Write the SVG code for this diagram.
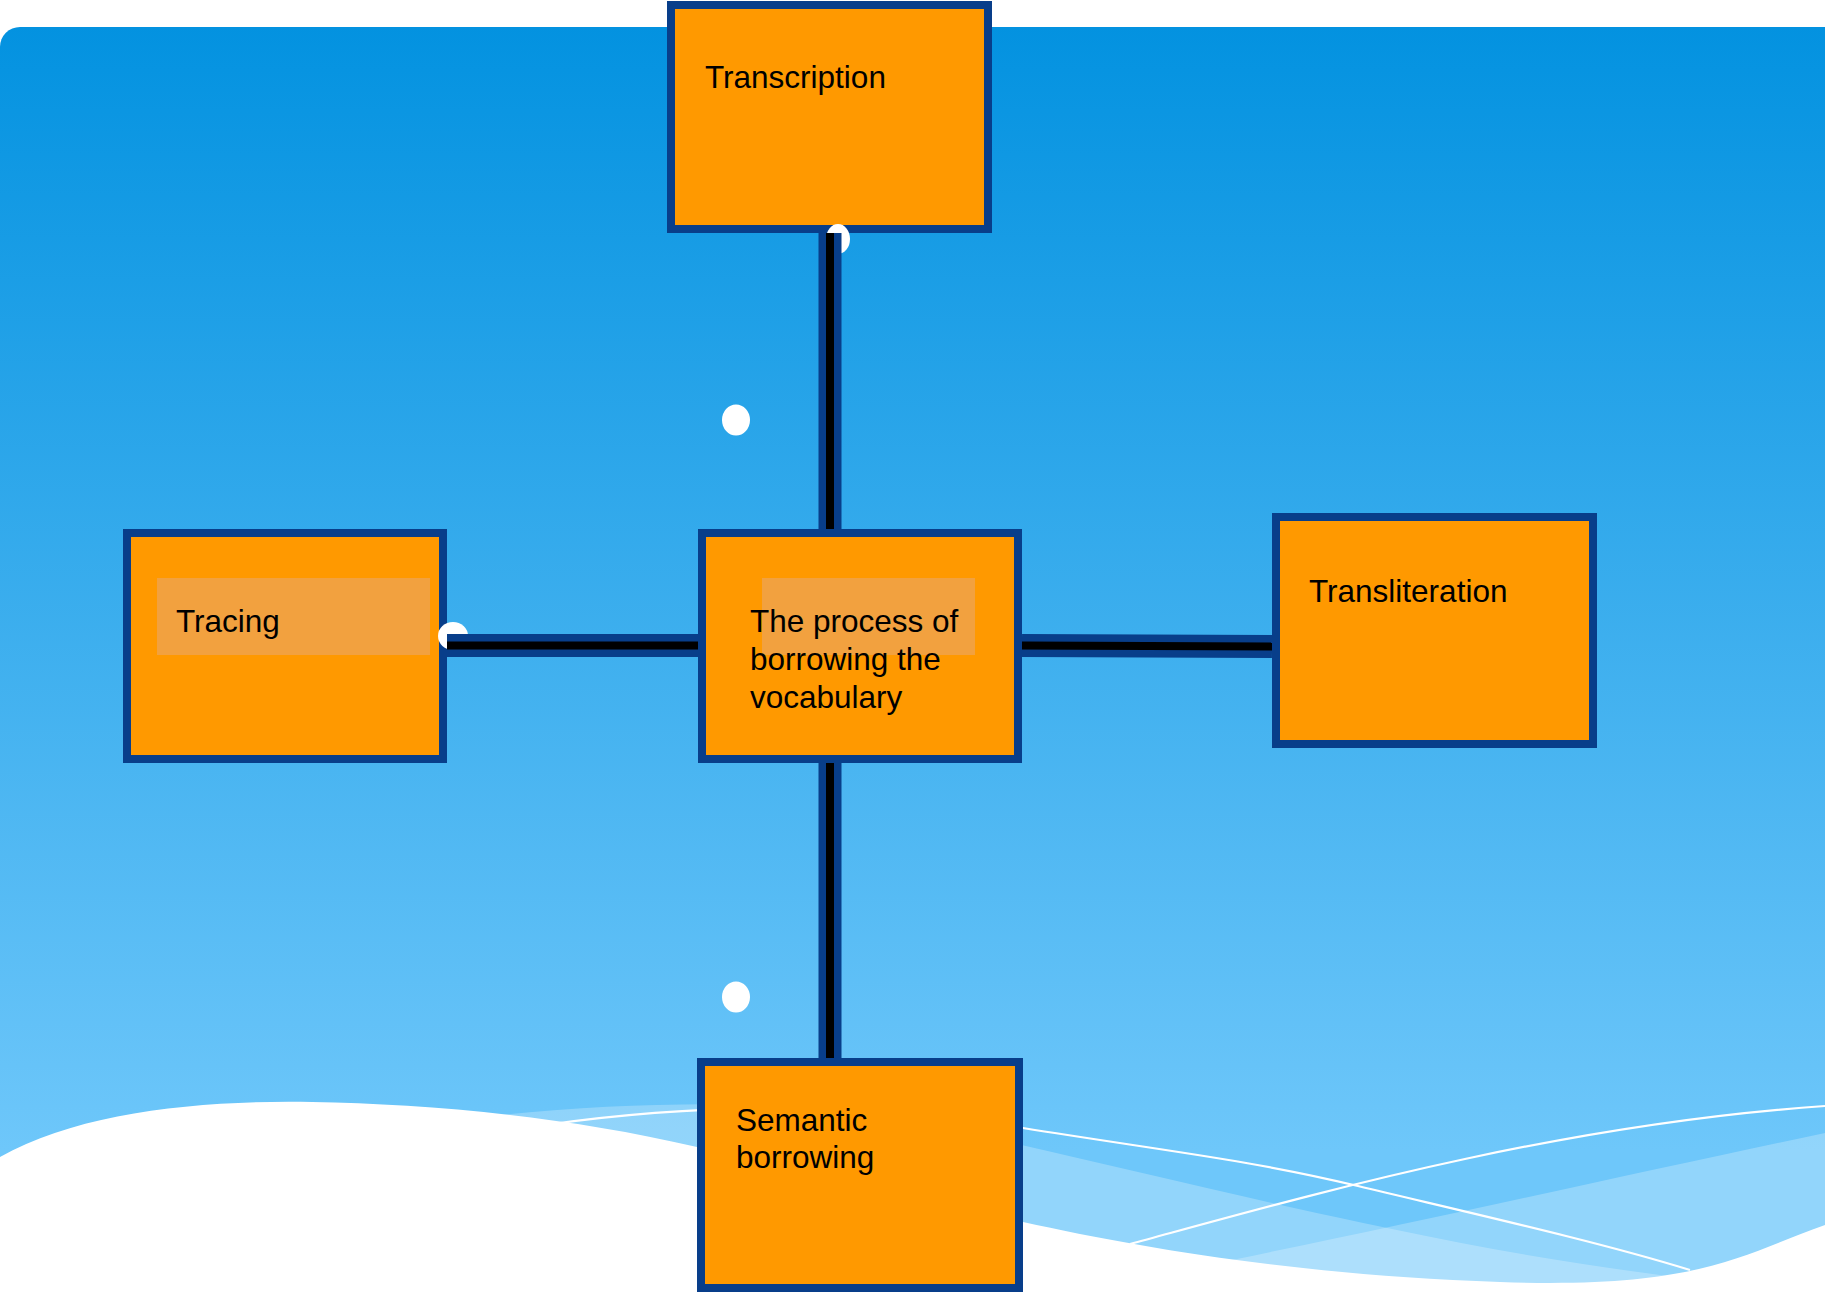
<svg xmlns="http://www.w3.org/2000/svg" width="1825" height="1296" viewBox="0 0 1825 1296">
  <defs>
    <linearGradient id="bg" gradientUnits="userSpaceOnUse" x1="0" y1="27" x2="0" y2="1150">
      <stop offset="0" stop-color="#0392e0"/>
      <stop offset="1" stop-color="#6ec7fa"/>
    </linearGradient>
    <style>
      .box { fill: #ff9900; stroke: #083e8a; stroke-width: 8; }
      .hl { fill: #f2a13f; }
      .lbl { font-family: "Liberation Sans", Arial, sans-serif; font-size: 31.5px; fill: #000; }
      .band { fill: #ffffff; fill-opacity: 0.25; }
      .wline { fill: none; stroke: #ffffff; stroke-width: 2.2; }
      .cnav { stroke: #083e8a; stroke-width: 23; }
      .cblk { stroke: #000000; stroke-width: 8; }
      .blob { fill: #ffffff; }
    </style>
  </defs>

  <rect x="0" y="0" width="1825" height="1296" fill="#ffffff"/>
  <rect x="0" y="27" width="1845" height="1300" rx="20" ry="20" fill="url(#bg)"/>

  <g id="waves">
    <path class="band" d="M480,1117 C620,1102 780,1098 900,1118 C1050,1150 1250,1200 1392,1229 C1500,1252 1600,1268 1700,1280 L1700,1296 L480,1296 Z"/>
    <path class="band" d="M1825,1133 C1650,1170 1450,1215 1232,1260 L1232,1296 L1825,1296 Z"/>
    <path class="wline" d="M545,1125 C720,1100 880,1105 1023,1128 S1250,1160 1358,1186 S1600,1242 1690,1270"/>
    <path class="wline" d="M1130,1244 C1300,1198 1550,1125 1825,1106"/>
    <path fill="#ffffff" d="M0,1157 C80,1112 200,1100 312,1102 S560,1115 697,1147 S900,1195 1023,1222 S1300,1275 1500,1282 S1740,1255 1825,1225 L1825,1296 L0,1296 Z"/>
  </g>

  <g id="node-transcription">
    <rect class="box" x="671" y="5" width="317" height="224"/>
    <text class="lbl" x="705" y="88">Transcription</text>
  </g>

  <g id="node-tracing">
    <rect class="box" x="127" y="533" width="316" height="226"/>
    <rect class="hl" x="157" y="578" width="273" height="77"/>
    <text class="lbl" x="176" y="632">Tracing</text>
  </g>

  <g id="node-center">
    <rect class="box" x="702" y="533" width="316" height="226"/>
    <rect class="hl" x="762" y="578" width="213" height="77"/>
    <text class="lbl" x="750" y="632">The process of</text>
    <text class="lbl" x="750" y="670">borrowing the</text>
    <text class="lbl" x="750" y="708">vocabulary</text>
  </g>

  <g id="node-transliteration">
    <rect class="box" x="1276" y="517" width="317" height="227"/>
    <text class="lbl" x="1309" y="602">Transliteration</text>
  </g>

  <g id="node-semantic">
    <rect class="box" x="701" y="1062" width="318" height="226"/>
    <text class="lbl" x="736" y="1131">Semantic</text>
    <text class="lbl" x="736" y="1168">borrowing</text>
  </g>

  <g id="dots">
    <ellipse class="blob" cx="838" cy="239" rx="12" ry="15"/>
    <ellipse class="blob" cx="453" cy="636" rx="15" ry="14"/>
    <ellipse class="blob" cx="736" cy="420" rx="14" ry="15.5"/>
    <ellipse class="blob" cx="736" cy="997" rx="14" ry="15.5"/>
  </g>

  <g id="connectors">
    <line class="cnav" x1="830" y1="233" x2="830" y2="529"/>
    <line class="cblk" x1="830" y1="233" x2="830" y2="529"/>
    <line class="cnav" x1="447" y1="645.5" x2="698" y2="645.5"/>
    <line class="cblk" x1="447" y1="645.5" x2="698" y2="645.5"/>
    <line class="cnav" x1="1022" y1="645.5" x2="1272" y2="646.5"/>
    <line class="cblk" x1="1022" y1="645.5" x2="1272" y2="646.5"/>
    <line class="cnav" x1="830" y1="763" x2="830" y2="1058"/>
    <line class="cblk" x1="830" y1="763" x2="830" y2="1058"/>
  </g>
</svg>
